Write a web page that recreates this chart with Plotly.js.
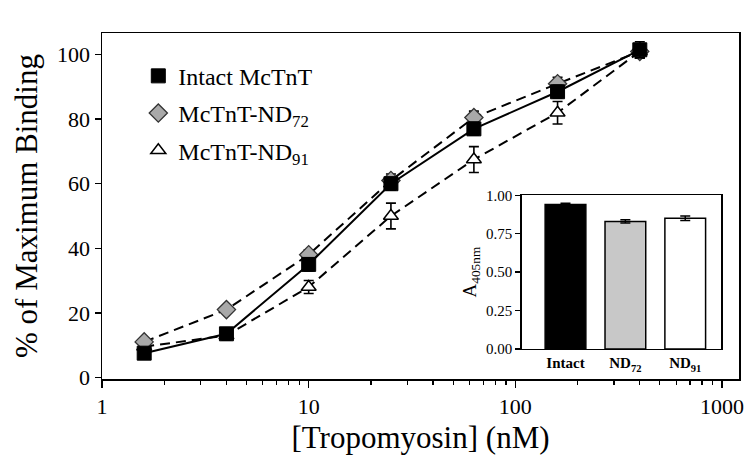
<!DOCTYPE html>
<html>
<head>
<meta charset="utf-8">
<script src="https://cdn.plot.ly/plotly-3.0.1.min.js"></script>
<style>html,body{margin:0;padding:0;background:#fff;}#chart{width:755px;height:465px;}</style>
</head>
<body>
<div id="chart"></div>
<script>
// ---- data ----
const conc = [1.6, 4, 10, 25, 63, 160, 400];
const intact = [7.5, 13.5, 35, 60, 77, 88.5, 101.5];
const intactErr = [1, 1.5, 2, 2, 2, 2, 2.5];
const nd72 = [11, 21, 38, 61, 80.5, 91, 101];
const nd72Err = [1, 1, 1.5, 2, 2, 2, 2];
const nd91 = [9.5, 13, 28, 50, 67.5, 82, 101];
const nd91Err = [1, 1.5, 2, 4, 4, 3.5, 2];
const seriesNames = ['Intact McTnT', 'McTnT-ND<sub>72</sub>', 'McTnT-ND<sub>91</sub>'];

const insetCats = ['Intact', 'ND<sub>72</sub>', 'ND<sub>91</sub>'];
const insetVals = [0.94, 0.83, 0.85];
const insetErr = [0.008, 0.01, 0.015];

const xTickVals = [1, 10, 100, 1000];
const xTickText = ['1', '10', '100', '1000'];

// ---- build ----
const serif = 'Liberation Serif';
const minorVals = [];
for (let d = 1; d <= 1000; d *= 10) for (let k = 2; k <= 9; k++) minorVals.push(k * d);

function errCfg(arr) {
  return {type: 'data', array: arr, visible: true, color: '#000', thickness: 1.6, width: 5};
}
const sqMarker = {symbol: 'square', size: 14, color: '#000', line: {color: '#000', width: 1}};
const diMarker = {symbol: 'diamond', size: 14, color: '#a9a9a9', line: {color: '#333', width: 1.3}};
const trMarker = {symbol: 'triangle-up', size: 13, color: '#fff', line: {color: '#000', width: 1.5}};

const traces = [
  {x: conc, y: nd91, error_y: errCfg(nd91Err), mode: 'lines+markers', line: {color: '#000', width: 2, dash: '10px,6px'}, marker: trMarker, showlegend: false, xaxis: 'x', yaxis: 'y'},
  {x: conc, y: nd72, error_y: errCfg(nd72Err), mode: 'lines+markers', line: {color: '#000', width: 2, dash: '10px,6px'}, marker: diMarker, showlegend: false, xaxis: 'x', yaxis: 'y'},
  {x: conc, y: intact, error_y: errCfg(intactErr), mode: 'lines+markers', line: {color: '#000', width: 2}, marker: sqMarker, showlegend: false, xaxis: 'x', yaxis: 'y'},
  // legend-only entries
  {x: [null], y: [null], mode: 'markers', marker: sqMarker, name: seriesNames[0], legendgroup: 'a', legendrank: 1, xaxis: 'x', yaxis: 'y'},
  {x: [null], y: [null], mode: 'markers', marker: diMarker, name: seriesNames[1], legendgroup: 'b', legendrank: 2, xaxis: 'x', yaxis: 'y'},
  {x: [null], y: [null], mode: 'markers', marker: trMarker, name: seriesNames[2], legendgroup: 'c', legendrank: 3, xaxis: 'x', yaxis: 'y'},
  // inset bars
  {type: 'bar', x: insetCats, y: insetVals, width: 0.68,
   marker: {color: ['#000', '#c8c8c8', '#fff'], line: {color: '#000', width: 1.5}},
   error_y: {type: 'data', array: insetErr, visible: true, color: '#000', thickness: 1.5, width: 5},
   showlegend: false, xaxis: 'x2', yaxis: 'y2'}
];

const layout = {
  width: 755, height: 465,
  margin: {l: 102, r: 16, t: 33, b: 86},
  paper_bgcolor: '#fff', plot_bgcolor: 'rgba(0,0,0,0)',
  font: {family: serif, color: '#000', size: 22},
  showlegend: true,
  legend: {x: 0.057, y: 0.94, xanchor: 'left', yanchor: 'top', bgcolor: 'rgba(0,0,0,0)',
           font: {family: serif, size: 24, color: '#000'}, tracegroupgap: 3, traceorder: 'grouped'},
  xaxis: {
    type: 'log', range: [0, 3.082], domain: [0, 1],
    tickmode: 'array', tickvals: xTickVals, ticktext: xTickText,
    ticks: 'outside', ticklen: 7, tickwidth: 1.5, tickcolor: '#000',
    minor: {tickmode: 'array', tickvals: minorVals, ticks: 'outside', ticklen: 4, tickwidth: 1.3, tickcolor: '#000'},
    showline: true, linecolor: '#000', linewidth: 1.5, mirror: true,
    showgrid: false, zeroline: false,
    tickfont: {family: serif, size: 22},
    title: {text: '[Tropomyosin] (nM)', font: {family: serif, size: 31}, standoff: 8}
  },
  yaxis: {
    range: [-0.5, 106.7], tickmode: 'linear', tick0: 0, dtick: 20,
    ticks: 'outside', ticklen: 6, tickwidth: 1.5, tickcolor: '#000',
    showline: true, linecolor: '#000', linewidth: 1.5, mirror: true,
    showgrid: false, zeroline: false,
    tickfont: {family: serif, size: 22},
    title: {text: '% of Maximum Binding', font: {family: serif, size: 31}, standoff: 10}
  },
  xaxis2: {
    domain: [0.659, 0.972], anchor: 'y2', range: [-0.73, 2.6], type: 'category',
    showline: true, linecolor: '#000', linewidth: 1.5, mirror: true,
    ticks: '', showgrid: false, zeroline: false,
    tickfont: {family: serif, size: 15, weight: 'bold'}
  },
  yaxis2: {
    domain: [0.087, 0.531], anchor: 'x2', range: [0, 1], tickmode: 'linear', tick0: 0, dtick: 0.25,
    tickformat: '.2f',
    ticks: 'outside', ticklen: 5, tickwidth: 1.3, tickcolor: '#000',
    showline: true, linecolor: '#000', linewidth: 1.5, mirror: true,
    showgrid: false, zeroline: false,
    tickfont: {family: serif, size: 15},
    title: {text: 'A<sub>405nm</sub>', font: {family: serif, size: 19}, standoff: 4}
  },
  shapes: [
    {type: 'rect', xref: 'paper', yref: 'paper', x0: 0.659, x1: 0.972, y0: 0.087, y1: 0.531,
     fillcolor: '#fff', line: {width: 0}, layer: 'below'}
  ]
};

Plotly.newPlot('chart', traces, layout, {displayModeBar: false, staticPlot: true});
</script>
</body>
</html>
